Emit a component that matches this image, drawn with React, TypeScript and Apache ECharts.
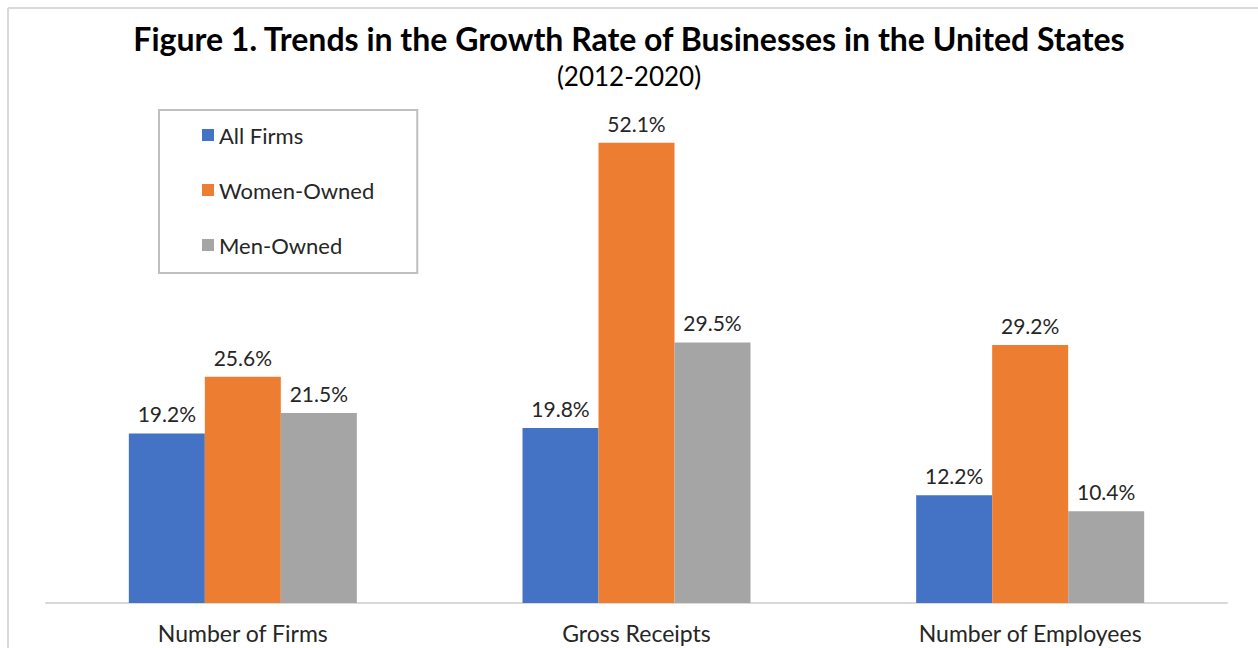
import React, { useEffect, useRef } from "react";
import * as echarts from "echarts";

const categories = ["Number of Firms", "Gross Receipts", "Number of Employees"];
const allFirms = [19.2, 19.8, 12.2];
const womenOwned = [25.6, 52.1, 29.2];
const menOwned = [21.5, 29.5, 10.4];
const seriesNames = ["All Firms", "Women-Owned", "Men-Owned"];
const colors = ["#4472C4", "#ED7D31", "#A5A5A5"];

const FONT = "Lato";

export default function App() {
  const ref = useRef<HTMLDivElement>(null);
  useEffect(() => {
    document.body.style.margin = "0";
    const chart = echarts.init(ref.current!, null, { renderer: "svg" });
    const label = {
      show: true,
      position: "top",
      distance: 9,
      fontFamily: FONT,
      fontSize: 21,
      color: "#262626",
      formatter: (p: any) => p.value.toFixed(1) + "%",
    };
    const data = [allFirms, womenOwned, menOwned];
    chart.setOption({
      animation: false,
      backgroundColor: "#ffffff",
      title: [
        {
          text: "Figure 1. Trends in the Growth Rate of Businesses in the United States",
          left: "center",
          top: 17,
          textStyle: { fontFamily: FONT, fontWeight: "bold", fontSize: 32, color: "#000000" },
        },
        {
          text: "(2012-2020)",
          left: "center",
          top: 58,
          textStyle: { fontFamily: FONT, fontWeight: "normal", fontSize: 26, color: "#000000" },
        },
      ],
      legend: {
        orient: "vertical",
        left: 159,
        top: 110,
        data: seriesNames,
        icon: "rect",
        itemWidth: 12,
        itemHeight: 12,
        itemGap: 33,
        padding: [14, 43, 17, 43],
        borderColor: "#bfbfbf",
        borderWidth: 2,
        textStyle: { fontFamily: FONT, fontSize: 22, color: "#262626" },
      },
      grid: { left: 46, right: 31, top: 73, bottom: 45 },
      xAxis: {
        type: "category",
        data: categories,
        axisLine: { lineStyle: { color: "#d9d9d9", width: 2 } },
        axisTick: { show: false },
        axisLabel: { fontFamily: FONT, fontSize: 23, color: "#262626", margin: 18 },
      },
      yAxis: {
        type: "value",
        min: 0,
        max: 60,
        show: false,
        splitLine: { show: false },
      },
      series: seriesNames.map((name, i) => ({
        name,
        type: "bar",
        data: data[i],
        barWidth: 76,
        barGap: "0%",
        itemStyle: { color: colors[i] },
        label,
      })),
      graphic: [
        { type: "line", shape: { x1: 8, y1: 8, x2: 1258, y2: 8 }, style: { stroke: "#d9d9d9", lineWidth: 2 } },
        { type: "line", shape: { x1: 8, y1: 8, x2: 8, y2: 648 }, style: { stroke: "#d9d9d9", lineWidth: 2 } },
      ],
    });
    return () => chart.dispose();
  }, []);
  return <div ref={ref} style={{ position: "fixed", left: 0, top: 0, width: 1258, height: 648 }} />;
}
